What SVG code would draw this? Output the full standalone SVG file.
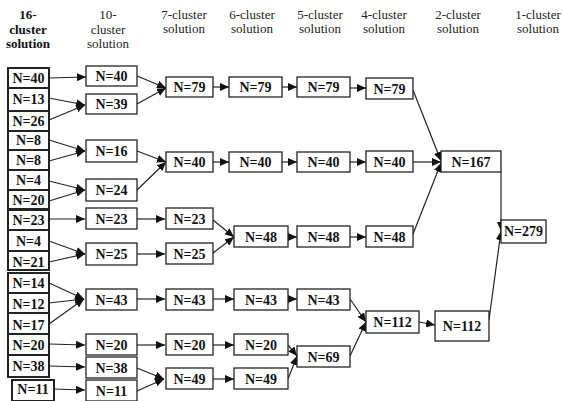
<svg xmlns="http://www.w3.org/2000/svg" width="563" height="401" viewBox="0 0 563 401">
  <style>
    .box { fill: #fff; stroke: #222; stroke-width: 1.3; }
    .b16 { stroke-width: 2; }
    .lbl { font-family: "Liberation Serif", "Times New Roman", serif; font-weight: bold; font-size: 14px; text-anchor: middle; fill: #111; }
    .hd { font-family: "Liberation Serif", "Times New Roman", serif; font-size: 13px; text-anchor: middle; fill: #222; }
    .hdb { font-weight: bold; fill: #111; }
    .edge { stroke: #2a2020; stroke-width: 1.2; fill: none; marker-end: url(#arr); }
  </style>
  <defs>
    <marker id="arr" markerUnits="userSpaceOnUse" markerWidth="9" markerHeight="8" refX="9" refY="4" orient="auto">
      <path d="M0,0 L9,4 L0,8 z" fill="#111"/>
    </marker>
  </defs>
  <rect width="563" height="401" fill="#fff"/>

  <!-- column headings -->
  <g id="headers">
    <text class="hd hdb" x="28" y="19">16-</text>
    <text class="hd hdb" x="28" y="33.5">cluster</text>
    <text class="hd hdb" x="28" y="48">solution</text>
    <text class="hd" x="108" y="19">10-</text>
    <text class="hd" x="108" y="33.5">cluster</text>
    <text class="hd" x="108" y="48">solution</text>
    <text class="hd" x="184" y="18.5">7-cluster</text>
    <text class="hd" x="184" y="33">solution</text>
    <text class="hd" x="252" y="18.5">6-cluster</text>
    <text class="hd" x="252" y="33">solution</text>
    <text class="hd" x="320" y="18.5">5-cluster</text>
    <text class="hd" x="320" y="33">solution</text>
    <text class="hd" x="384" y="18.5">4-cluster</text>
    <text class="hd" x="384" y="33">solution</text>
    <text class="hd" x="458" y="18.5">2-cluster</text>
    <text class="hd" x="458" y="33">solution</text>
    <text class="hd" x="538" y="18.5">1-cluster</text>
    <text class="hd" x="538" y="33">solution</text>
  </g>

  <!-- connectors -->
  <g id="connectors">
    <!-- 16 -> 10 -->
    <line class="edge" x1="49" y1="78" x2="86" y2="77"/>
    <line class="edge" x1="49" y1="98" x2="85" y2="105"/>
    <line class="edge" x1="49" y1="120" x2="85" y2="105"/>
    <line class="edge" x1="49" y1="140" x2="85" y2="151"/>
    <line class="edge" x1="49" y1="161" x2="85" y2="151"/>
    <line class="edge" x1="49" y1="181" x2="85" y2="190"/>
    <line class="edge" x1="49" y1="201" x2="85" y2="190"/>
    <line class="edge" x1="49" y1="219" x2="85" y2="219"/>
    <line class="edge" x1="49" y1="241" x2="85" y2="254"/>
    <line class="edge" x1="49" y1="262" x2="85" y2="254"/>
    <line class="edge" x1="49" y1="283" x2="84" y2="299"/>
    <line class="edge" x1="49" y1="303" x2="84" y2="299"/>
    <line class="edge" x1="49" y1="324" x2="84" y2="299"/>
    <line class="edge" x1="49" y1="344" x2="85" y2="345"/>
    <line class="edge" x1="49" y1="366" x2="85" y2="367"/>
    <line class="edge" x1="54" y1="389" x2="85" y2="390"/>
    <!-- 10 -> 7 -->
    <line class="edge" x1="137" y1="76" x2="166" y2="88"/>
    <line class="edge" x1="137" y1="104" x2="166" y2="88"/>
    <line class="edge" x1="137" y1="151" x2="166" y2="162"/>
    <line class="edge" x1="137" y1="190" x2="166" y2="162"/>
    <line class="edge" x1="137" y1="219" x2="165" y2="219"/>
    <line class="edge" x1="137" y1="254" x2="165" y2="254"/>
    <line class="edge" x1="137" y1="299" x2="165" y2="299"/>
    <line class="edge" x1="137" y1="345" x2="165" y2="345"/>
    <line class="edge" x1="137" y1="368" x2="164" y2="379"/>
    <line class="edge" x1="137" y1="391" x2="164" y2="379"/>
    <!-- 7 -> 6 -->
    <line class="edge" x1="213" y1="87" x2="229" y2="87"/>
    <line class="edge" x1="213" y1="162" x2="229" y2="162"/>
    <line class="edge" x1="213" y1="220" x2="234" y2="237"/>
    <line class="edge" x1="213" y1="253" x2="234" y2="237"/>
    <line class="edge" x1="213" y1="299" x2="234" y2="299"/>
    <line class="edge" x1="213" y1="345" x2="234" y2="345"/>
    <line class="edge" x1="213" y1="379" x2="234" y2="379"/>
    <!-- 6 -> 5 -->
    <line class="edge" x1="282" y1="87" x2="297" y2="87"/>
    <line class="edge" x1="282" y1="162" x2="297" y2="162"/>
    <line class="edge" x1="288" y1="237" x2="297" y2="237"/>
    <line class="edge" x1="288" y1="299" x2="297" y2="299"/>
    <line class="edge" x1="288" y1="345" x2="297" y2="356"/>
    <line class="edge" x1="288" y1="379" x2="297" y2="356"/>
    <!-- 5 -> 4 -->
    <line class="edge" x1="338" y1="88" x2="366" y2="88"/>
    <line class="edge" x1="338" y1="162" x2="366" y2="162"/>
    <line class="edge" x1="350" y1="237" x2="366" y2="237"/>
    <line class="edge" x1="350" y1="299" x2="366" y2="322"/>
    <line class="edge" x1="350" y1="356" x2="366" y2="322"/>
    <!-- 4 -> 2 -->
    <line class="edge" x1="413" y1="90" x2="441" y2="161"/>
    <line class="edge" x1="413" y1="162" x2="441" y2="162"/>
    <line class="edge" x1="413" y1="234" x2="441" y2="163"/>
    <line class="edge" x1="419" y1="322" x2="435" y2="325"/>
    <!-- 2 -> 1 -->
    <line class="edge" x1="501" y1="172" x2="501" y2="231"/>
    <line class="edge" x1="489" y1="320" x2="501" y2="231"/>
  </g>

  <!-- 16-cluster solution -->
  <g id="c16-1"><rect class="box b16" x="8" y="68" width="41" height="20"/><text class="lbl" x="28.5" y="82.5">N=40</text></g>
  <g id="c16-2"><rect class="box b16" x="8" y="88" width="41" height="23"/><text class="lbl" x="28.5" y="104">N=13</text></g>
  <g id="c16-3"><rect class="box b16" x="8" y="111" width="41" height="20"/><text class="lbl" x="28.5" y="125.5">N=26</text></g>
  <g id="c16-4"><rect class="box b16" x="8" y="131" width="41" height="19"/><text class="lbl" x="28.5" y="145">N=8</text></g>
  <g id="c16-5"><rect class="box b16" x="8" y="150" width="41" height="20"/><text class="lbl" x="28.5" y="165">N=8</text></g>
  <g id="c16-6"><rect class="box b16" x="8" y="170" width="41" height="20"/><text class="lbl" x="28.5" y="184.5">N=4</text></g>
  <g id="c16-7"><rect class="box b16" x="8" y="190" width="41" height="19"/><text class="lbl" x="28.5" y="204.5">N=20</text></g>
  <g id="c16-8"><rect class="box b16" x="8" y="210" width="41" height="20"/><text class="lbl" x="28.5" y="224.5">N=23</text></g>
  <g id="c16-9"><rect class="box b16" x="8" y="230" width="41" height="21"/><text class="lbl" x="28.5" y="246">N=4</text></g>
  <g id="c16-10"><rect class="box b16" x="8" y="251" width="41" height="19"/><text class="lbl" x="28.5" y="267">N=21</text></g>
  <g id="c16-11"><rect class="box b16" x="8" y="273" width="41" height="20"/><text class="lbl" x="28.5" y="288">N=14</text></g>
  <g id="c16-12"><rect class="box b16" x="8" y="293" width="41" height="20"/><text class="lbl" x="28.5" y="308.5">N=12</text></g>
  <g id="c16-13"><rect class="box b16" x="8" y="313" width="41" height="21"/><text class="lbl" x="28.5" y="329.5">N=17</text></g>
  <g id="c16-14"><rect class="box b16" x="8" y="334" width="41" height="21"/><text class="lbl" x="28.5" y="349.5">N=20</text></g>
  <g id="c16-15"><rect class="box b16" x="8" y="355" width="41" height="22"/><text class="lbl" x="28.5" y="371">N=38</text></g>
  <g id="c16-16"><rect class="box b16" x="12" y="380" width="42" height="21"/><text class="lbl" x="33" y="393.5">N=11</text></g>

  <!-- 10-cluster solution -->
  <g id="c10-1"><rect class="box" x="86" y="66" width="51" height="20"/><text class="lbl" x="111.5" y="80.5">N=40</text></g>
  <g id="c10-2"><rect class="box" x="86" y="94" width="51" height="20"/><text class="lbl" x="111.5" y="109">N=39</text></g>
  <g id="c10-3"><rect class="box" x="86" y="140" width="51" height="22"/><text class="lbl" x="111.5" y="156">N=16</text></g>
  <g id="c10-4"><rect class="box" x="86" y="179" width="51" height="22"/><text class="lbl" x="111.5" y="195">N=24</text></g>
  <g id="c10-5"><rect class="box" x="86" y="208" width="51" height="21"/><text class="lbl" x="111.5" y="223.5">N=23</text></g>
  <g id="c10-6"><rect class="box" x="86" y="243" width="51" height="22"/><text class="lbl" x="111.5" y="259">N=25</text></g>
  <g id="c10-7"><rect class="box" x="86" y="289" width="51" height="21"/><text class="lbl" x="111.5" y="304.5">N=43</text></g>
  <g id="c10-8"><rect class="box" x="86" y="334" width="51" height="21"/><text class="lbl" x="111.5" y="349.5">N=20</text></g>
  <g id="c10-9"><rect class="box" x="86" y="357" width="51" height="21"/><text class="lbl" x="111.5" y="372.5">N=38</text></g>
  <g id="c10-10"><rect class="box" x="86" y="380" width="51" height="21"/><text class="lbl" x="111.5" y="395.5">N=11</text></g>

  <!-- 7-cluster solution -->
  <g id="c7-1"><rect class="box" x="166" y="77" width="47" height="20"/><text class="lbl" x="189.5" y="92">N=79</text></g>
  <g id="c7-2"><rect class="box" x="166" y="152" width="47" height="20"/><text class="lbl" x="189.5" y="167">N=40</text></g>
  <g id="c7-3"><rect class="box" x="166" y="208" width="47" height="21"/><text class="lbl" x="189.5" y="223.5">N=23</text></g>
  <g id="c7-4"><rect class="box" x="166" y="243" width="47" height="21"/><text class="lbl" x="189.5" y="258.5">N=25</text></g>
  <g id="c7-5"><rect class="box" x="166" y="289" width="47" height="21"/><text class="lbl" x="189.5" y="304.5">N=43</text></g>
  <g id="c7-6"><rect class="box" x="166" y="334" width="47" height="21"/><text class="lbl" x="189.5" y="349.5">N=20</text></g>
  <g id="c7-7"><rect class="box" x="166" y="368" width="47" height="21"/><text class="lbl" x="189.5" y="383.5">N=49</text></g>

  <!-- 6-cluster solution -->
  <g id="c6-1"><rect class="box" x="229" y="77" width="53" height="20"/><text class="lbl" x="255.5" y="92">N=79</text></g>
  <g id="c6-2"><rect class="box" x="229" y="152" width="53" height="20"/><text class="lbl" x="255.5" y="167">N=40</text></g>
  <g id="c6-3"><rect class="box" x="234" y="226" width="54" height="21"/><text class="lbl" x="261" y="241.5">N=48</text></g>
  <g id="c6-4"><rect class="box" x="234" y="289" width="54" height="21"/><text class="lbl" x="261" y="304.5">N=43</text></g>
  <g id="c6-5"><rect class="box" x="234" y="334" width="54" height="21"/><text class="lbl" x="261" y="349.5">N=20</text></g>
  <g id="c6-6"><rect class="box" x="234" y="368" width="54" height="21"/><text class="lbl" x="261" y="383.5">N=49</text></g>

  <!-- 5-cluster solution -->
  <g id="c5-1"><rect class="box" x="297" y="77" width="53" height="20"/><text class="lbl" x="323.5" y="92">N=79</text></g>
  <g id="c5-2"><rect class="box" x="297" y="152" width="53" height="20"/><text class="lbl" x="323.5" y="167">N=40</text></g>
  <g id="c5-3"><rect class="box" x="297" y="226" width="53" height="21"/><text class="lbl" x="323.5" y="241.5">N=48</text></g>
  <g id="c5-4"><rect class="box" x="297" y="289" width="53" height="21"/><text class="lbl" x="323.5" y="304.5">N=43</text></g>
  <g id="c5-5"><rect class="box" x="297" y="346" width="53" height="21"/><text class="lbl" x="323.5" y="361.5">N=69</text></g>

  <!-- 4-cluster solution -->
  <g id="c4-1"><rect class="box" x="366" y="78" width="47" height="21"/><text class="lbl" x="389.5" y="93.5">N=79</text></g>
  <g id="c4-2"><rect class="box" x="366" y="151" width="47" height="21"/><text class="lbl" x="389.5" y="166.5">N=40</text></g>
  <g id="c4-3"><rect class="box" x="366" y="226" width="47" height="21"/><text class="lbl" x="389.5" y="241.5">N=48</text></g>
  <g id="c4-4"><rect class="box" x="366" y="311" width="53" height="22"/><text class="lbl" x="392.5" y="327">N=112</text></g>

  <!-- 2-cluster solution -->
  <g id="c2-1"><rect class="box" x="441" y="151" width="60" height="21"/><text class="lbl" x="471" y="166.5">N=167</text></g>
  <g id="c2-2"><rect class="box" x="435" y="311" width="54" height="30"/><text class="lbl" x="462" y="331">N=112</text></g>

  <!-- 1-cluster solution -->
  <g id="c1-1"><rect class="box" x="501" y="220" width="45" height="23"/><text class="lbl" x="523.5" y="236">N=279</text></g>
</svg>
